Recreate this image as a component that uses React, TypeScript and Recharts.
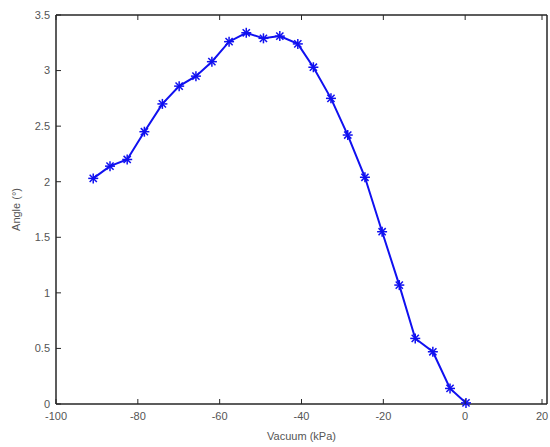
import React from 'react';
import { LineChart, Line, XAxis, YAxis, Label } from 'recharts';

// values
const vacuum = [-90.9, -86.8, -82.6, -78.4, -74.0, -69.9, -65.8, -61.9, -57.7, -53.5, -49.3, -45.3, -40.9, -37.1, -32.8, -28.7, -24.5, -20.3, -16.1, -12.2, -7.9, -3.7, 0.2];
const angle = [2.03, 2.14, 2.2, 2.45, 2.7, 2.86, 2.95, 3.08, 3.26, 3.34, 3.29, 3.31, 3.24, 3.03, 2.75, 2.42, 2.04, 1.55, 1.07, 0.59, 0.47, 0.14, 0.01];
const xTicks = [-100, -80, -60, -40, -20, 0, 20];
const yTicks = [0, 0.5, 1, 1.5, 2, 2.5, 3, 3.5];

const data = vacuum.map((v, i) => ({ vacuum: v, angle: angle[i] }));

const BLUE = '#1010f0';
const AXIS = '#262626';
const TEXT = '#555555';
const FONT = 'Liberation Sans, Arial, sans-serif';
const TICK_LEN = 5;

// matlab style '*' marker
const Star = (props: any) => {
  const { cx, cy } = props;
  if (cx == null || cy == null) return null;
  const r = 5;
  const d = r * 0.72;
  return (
    <g stroke={BLUE} strokeWidth={1.5}>
      <line x1={cx - r} y1={cy} x2={cx + r} y2={cy} />
      <line x1={cx} y1={cy - r} x2={cx} y2={cy + r} />
      <line x1={cx - d} y1={cy - d} x2={cx + d} y2={cy + d} />
      <line x1={cx - d} y1={cy + d} x2={cx + d} y2={cy - d} />
    </g>
  );
};

// ticks pointing into the plot, like matlab; gap = tickMargin used on the axis
const makeTick = (side: 'bottom' | 'top' | 'left' | 'right', gap: number, showText: boolean) => (props: any) => {
  const { x, y, payload } = props;
  let line;
  let text = null;
  if (side === 'bottom') {
    line = <line x1={x} y1={y - gap} x2={x} y2={y - gap - TICK_LEN} stroke={AXIS} />;
    if (showText) text = <text x={x} y={y} dy="0.71em" textAnchor="middle" fill={TEXT} fontSize={11} fontFamily={FONT}>{payload.value}</text>;
  } else if (side === 'top') {
    line = <line x1={x} y1={y + gap} x2={x} y2={y + gap + TICK_LEN} stroke={AXIS} />;
  } else if (side === 'left') {
    line = <line x1={x + gap} y1={y} x2={x + gap + TICK_LEN} y2={y} stroke={AXIS} />;
    if (showText) text = <text x={x} y={y} dy="0.355em" textAnchor="end" fill={TEXT} fontSize={11} fontFamily={FONT}>{payload.value}</text>;
  } else {
    line = <line x1={x - gap} y1={y} x2={x - gap - TICK_LEN} y2={y} stroke={AXIS} />;
  }
  return <g>{line}{text}</g>;
};

const labelStyle = { fill: TEXT, fontSize: 11, fontFamily: FONT };

export default function App() {
  return (
    <div style={{ position: 'absolute', left: 0, top: 0, background: '#fff' }}>
      <LineChart width={550} height={447} data={data} margin={{ top: 14, right: 2, bottom: 13, left: 0 }}>
        <XAxis
          xAxisId="bottom"
          dataKey="vacuum"
          type="number"
          domain={[-100, 20]}
          ticks={xTicks}
          allowDataOverflow
          height={30}
          stroke={AXIS}
          strokeWidth={1.5}
          tickLine={false}
          tickSize={0}
          tickMargin={8}
          tick={makeTick('bottom', 8, true)}
        >
          <Label value="Vacuum (kPa)" position="bottom" offset={-2} style={labelStyle} />
        </XAxis>
        <XAxis
          xAxisId="top"
          orientation="top"
          dataKey="vacuum"
          type="number"
          domain={[-100, 20]}
          ticks={xTicks}
          height={1}
          stroke={AXIS}
          strokeWidth={1.5}
          tickLine={false}
          tickSize={0}
          tickMargin={0}
          tick={makeTick('top', 0, false)}
        />
        <YAxis
          yAxisId="left"
          type="number"
          domain={[0, 3.5]}
          ticks={yTicks}
          width={56}
          stroke={AXIS}
          strokeWidth={1.5}
          tickLine={false}
          tickSize={0}
          tickMargin={6}
          tick={makeTick('left', 6, true)}
        >
          <Label value="Angle (°)" angle={-90} position="insideLeft" offset={16} style={{ ...labelStyle, textAnchor: 'middle' }} />
        </YAxis>
        <YAxis
          yAxisId="right"
          orientation="right"
          type="number"
          domain={[0, 3.5]}
          ticks={yTicks}
          width={1}
          stroke={AXIS}
          strokeWidth={1.5}
          tickLine={false}
          tickSize={0}
          tickMargin={0}
          tick={makeTick('right', 0, false)}
        />
        <Line
          xAxisId="bottom"
          yAxisId="left"
          dataKey="angle"
          stroke={BLUE}
          strokeWidth={2}
          dot={<Star />}
          isAnimationActive={false}
        />
      </LineChart>
    </div>
  );
}
